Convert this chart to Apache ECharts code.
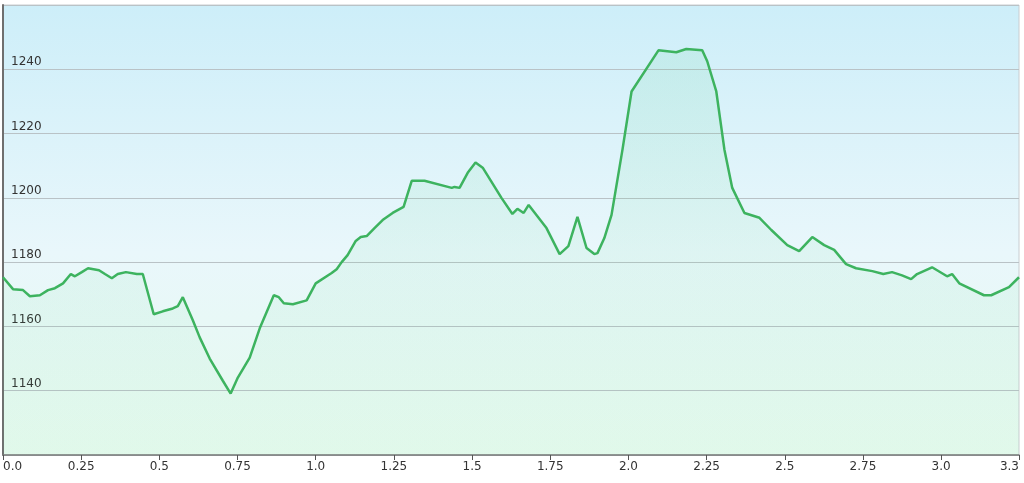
<!DOCTYPE html>
<html>
<head>
<meta charset="utf-8">
<title>Elevation profile</title>
<script src="https://cdn.jsdelivr.net/npm/echarts@6/dist/echarts.min.js"></script>
<style>
  html, body { margin: 0; padding: 0; background: #fff; }
  #profile-chart { width: 1024px; height: 483px; }
</style>
</head>
<body>
<div id="profile-chart"></div>
<script>
// distance (km) along the track
var distances = [
  0.000, 0.032, 0.064, 0.086, 0.118, 0.144, 0.166, 0.192, 0.217, 0.230,
  0.252, 0.272, 0.307, 0.326, 0.348, 0.367, 0.393, 0.428, 0.447, 0.482,
  0.511, 0.543, 0.559, 0.575, 0.607, 0.629, 0.661, 0.703, 0.728, 0.751,
  0.789, 0.821, 0.866, 0.882, 0.898, 0.927, 0.971, 1.000, 1.051, 1.067,
  1.083, 1.102, 1.128, 1.144, 1.163, 1.188, 1.214, 1.246, 1.281, 1.307,
  1.348, 1.435, 1.444, 1.460, 1.486, 1.511, 1.534, 1.594, 1.629, 1.645,
  1.665, 1.681, 1.738, 1.780, 1.808, 1.837, 1.866, 1.891, 1.901, 1.923,
  1.946, 1.981, 2.010, 2.096, 2.153, 2.185, 2.236, 2.252, 2.281, 2.307,
  2.332, 2.371, 2.419, 2.457, 2.508, 2.546, 2.588, 2.626, 2.658, 2.696,
  2.728, 2.780, 2.815, 2.843, 2.875, 2.904, 2.923, 2.971, 3.019, 3.035,
  3.058, 3.137, 3.160, 3.217, 3.249
];
// elevation (m)
var elevations = [
  1175.3, 1171.6, 1171.3, 1169.4, 1169.7, 1171.3, 1171.9, 1173.4, 1176.3, 1175.6,
  1176.9, 1178.1, 1177.5, 1176.3, 1175.0, 1176.3, 1176.9, 1176.3, 1176.3, 1163.8,
  1164.7, 1165.6, 1166.3, 1169.1, 1161.9, 1156.6, 1150.0, 1143.1, 1139.1, 1144.1,
  1150.3, 1159.4, 1169.7, 1169.1, 1167.2, 1166.9, 1168.1, 1173.4, 1176.6, 1177.8,
  1180.0, 1182.2, 1186.6, 1187.8, 1188.1, 1190.6, 1193.1, 1195.3, 1197.2, 1205.3,
  1205.3, 1203.1, 1203.4, 1203.1, 1207.8, 1211.0, 1209.4, 1200.0, 1195.0, 1196.6,
  1195.3, 1197.8, 1190.6, 1182.5, 1185.0, 1194.1, 1184.4, 1182.5, 1182.8, 1187.5,
  1194.7, 1215.0, 1233.1, 1245.9, 1245.3, 1246.3, 1245.9, 1242.5, 1233.1, 1215.0,
  1203.1, 1195.3, 1193.8, 1190.0, 1185.3, 1183.4, 1187.8, 1185.3, 1183.8, 1179.4,
  1178.1, 1177.2, 1176.3, 1176.9, 1175.9, 1174.7, 1176.3, 1178.4, 1175.6, 1176.3,
  1173.4, 1169.7, 1169.7, 1172.2, 1175.3
];
var yMin = 1120, yMax = 1260, yStep = 20;
var xStep = 0.25;

var points = distances.map(function (d, i) { return [d, elevations[i]]; });
var xMax = distances[distances.length - 1];

var chart = echarts.init(document.getElementById('profile-chart'));
var option = {
  animation: false,
  textStyle: { fontFamily: 'DejaVu Sans' },
  grid: {
    left: 3,
    right: 5,
    top: 5,
    bottom: 28,
    outerBoundsMode: 'none',
    show: true,
    borderColor: '#c8cdd0',
    borderWidth: 1,
    backgroundColor: new echarts.graphic.LinearGradient(0, 0, 0, 1, [
      { offset: 0, color: '#cdeef9' },
      { offset: 0.55, color: '#e9f7fb' },
      { offset: 1, color: '#e6faee' }
    ])
  },
  xAxis: {
    type: 'value',
    min: 0,
    max: xMax,
    interval: xStep,
    axisLine: { show: true, lineStyle: { color: '#7a7a7a', width: 1.5 } },
    axisTick: { show: true, length: 5, lineStyle: { color: '#555' } },
    splitLine: { show: false },
    axisLabel: {
      color: '#333',
      fontSize: 12,
      margin: 6,
      alignMinLabel: 'left',
      alignMaxLabel: 'right',
      formatter: function (v) {
        var q = Math.round(v * 4);
        // end of track: rounded up to one decimal
        if (Math.abs(q - v * 4) > 1e-6) return (Math.ceil(v * 10) / 10).toFixed(1);
        if (q % 4 === 0) return (q / 4).toFixed(1);
        return String(q / 4);
      }
    }
  },
  yAxis: {
    type: 'value',
    min: yMin,
    max: yMax,
    interval: yStep,
    axisLine: { show: true, lineStyle: { color: '#6f6f6f', width: 2 } },
    axisTick: { show: false },
    splitLine: { show: true, lineStyle: { color: '#b9c2c6', width: 1 } },
    axisLabel: {
      inside: true,
      margin: 8,
      color: '#333',
      fontSize: 12,
      verticalAlign: 'bottom',
      padding: [0, 0, 1, 0],
      showMinLabel: false,
      showMaxLabel: false,
      formatter: function (v) { return String(v); }
    }
  },
  series: [{
    type: 'line',
    data: points,
    showSymbol: false,
    lineStyle: { color: '#3db35f', width: 2.5 },
    itemStyle: { color: '#3db35f' },
    areaStyle: {
      color: new echarts.graphic.LinearGradient(0, 0, 0, 1, [
        { offset: 0, color: 'rgba(80,205,130,0.16)' },
        { offset: 1, color: 'rgba(80,215,130,0.05)' }
      ])
    }
  }]
};
chart.setOption(option);
</script>
</body>
</html>
